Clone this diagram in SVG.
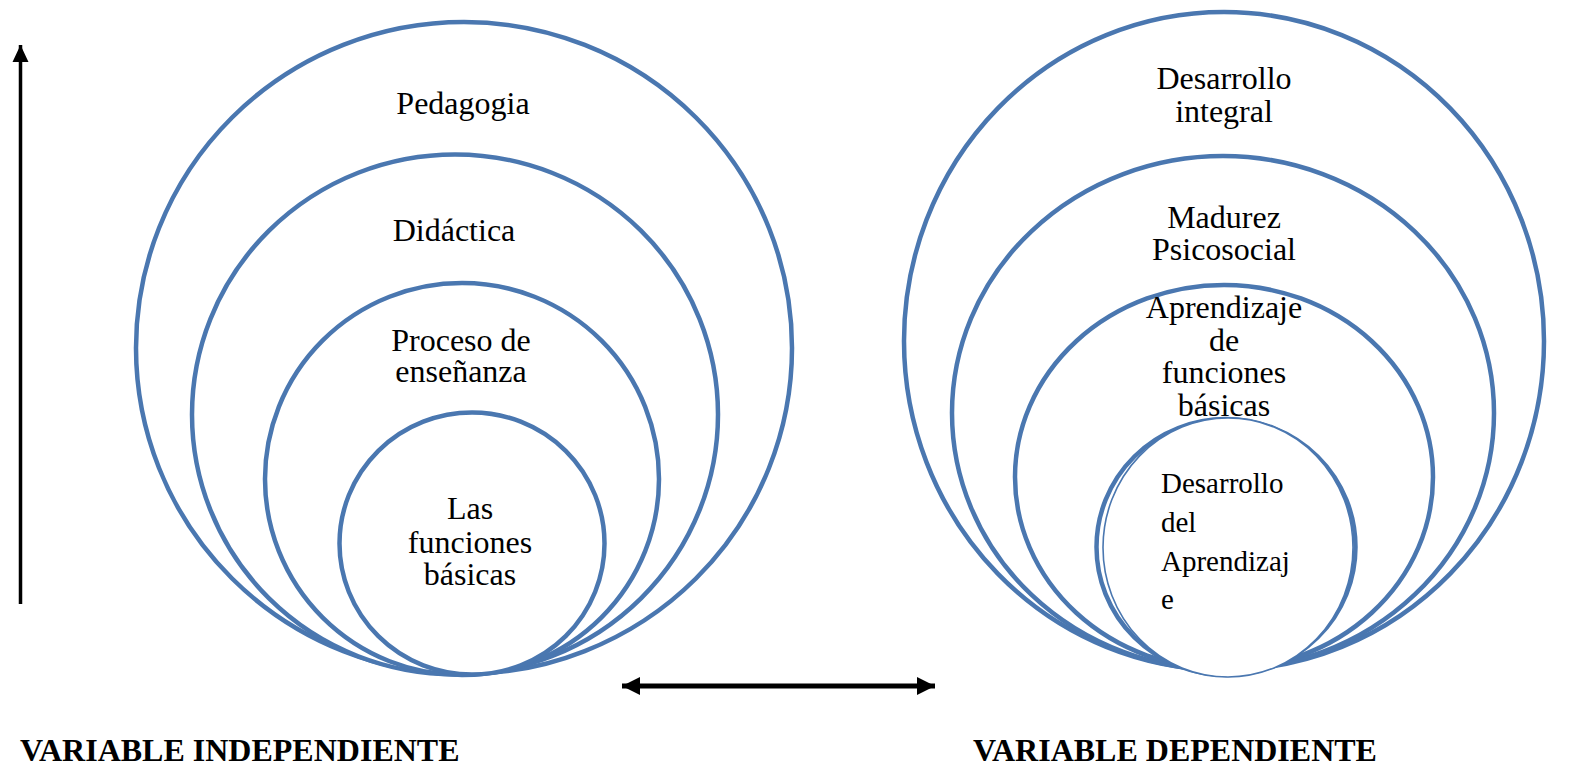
<svg xmlns="http://www.w3.org/2000/svg" width="1574" height="769" viewBox="0 0 1574 769">
<style>
.c{fill:#fff;stroke:#4A77B0;stroke-width:4.5}
.thin{fill:#fff;stroke:#4A77B0;stroke-width:1.6}
.t{font-family:"Liberation Serif","Times New Roman",serif;font-size:32px;fill:#000;text-anchor:middle}
.ti{font-family:"Liberation Serif","Times New Roman",serif;font-size:29px;fill:#000}
.b{font-family:"Liberation Serif","Times New Roman",serif;font-size:32px;font-weight:bold;fill:#000}
.ln{stroke:#000;fill:none}
</style>
<defs>
<marker id="ah" markerUnits="userSpaceOnUse" markerWidth="20" markerHeight="20" viewBox="0 0 20 20" refX="18" refY="10" orient="auto-start-reverse">
<path d="M0,1 L18,10 L0,19 Z" fill="#000"/>
</marker>
<marker id="av" markerUnits="userSpaceOnUse" markerWidth="18" markerHeight="18" viewBox="0 0 18 18" refX="17" refY="9" orient="auto">
<path d="M0,1 L17,9 L0,17 Z" fill="#000"/>
</marker>
</defs>
<g id="left-pedagogia"><ellipse class="c" cx="464" cy="348" rx="328" ry="326"/><text class="t" x="463" y="114">Pedagogia</text></g>
<g id="left-didactica"><ellipse class="c" cx="455" cy="414.5" rx="263" ry="260"/><text class="t" x="454" y="241">Didáctica</text></g>
<g id="left-proceso"><ellipse class="c" cx="462" cy="479" rx="197" ry="196"/><text class="t" x="461" y="351">Proceso de</text><text class="t" x="461" y="382">enseñanza</text></g>
<g id="left-funciones"><ellipse class="c" cx="472" cy="543.5" rx="132.5" ry="131"/><text class="t" x="470" y="519">Las</text><text class="t" x="470" y="553">funciones</text><text class="t" x="470" y="585">básicas</text></g>
<g id="right-integral"><ellipse class="c" cx="1224" cy="341" rx="320" ry="329"/><text class="t" x="1224" y="89">Desarrollo</text><text class="t" x="1224" y="122">integral</text></g>
<g id="right-madurez"><ellipse class="c" cx="1223" cy="413" rx="271" ry="257"/><text class="t" x="1224" y="228">Madurez</text><text class="t" x="1224" y="260">Psicosocial</text></g>
<g id="right-aprendizaje"><ellipse class="c" cx="1224" cy="477" rx="209" ry="192"/><text class="t" x="1224" y="318">Aprendizaje</text><text class="t" x="1224" y="351">de</text><text class="t" x="1224" y="383">funciones</text><text class="t" x="1224" y="416">básicas</text></g>
<g id="right-desarrollo-aprendizaje"><ellipse class="c" cx="1226" cy="547" rx="129.5" ry="128"/><ellipse class="thin" cx="1228" cy="547.5" rx="125" ry="129.5"/><text class="ti" x="1161" y="493">Desarrollo</text><text class="ti" x="1161" y="532">del</text><text class="ti" x="1161" y="571">Aprendizaj</text><text class="ti" x="1161" y="609">e</text></g>
<g id="connectors">
<line class="ln" x1="20.5" y1="604" x2="20.5" y2="45" stroke-width="3.5" marker-end="url(#av)"/>
<line class="ln" x1="622" y1="686" x2="935" y2="686" stroke-width="5" marker-start="url(#ah)" marker-end="url(#ah)"/>
</g>
<g id="labels">
<text class="b" x="20" y="761">VARIABLE INDEPENDIENTE</text>
<text class="b" x="973" y="761">VARIABLE DEPENDIENTE</text>
</g>
</svg>
